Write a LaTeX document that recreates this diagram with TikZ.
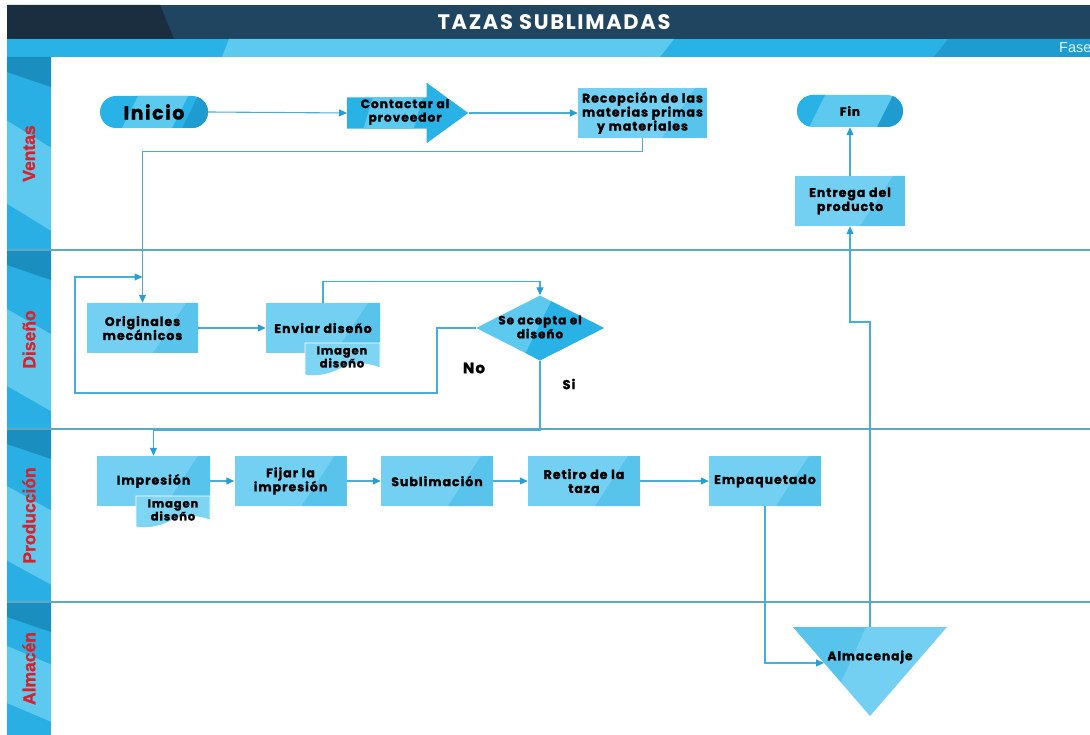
\documentclass[tikz,border=0pt]{standalone}
\usepackage{fontspec}
\setmainfont{Liberation Sans}[BoldFeatures={FakeBold=1.2}]
\newfontfamily\shapefont{Poppins}[LetterSpace=8,BoldFeatures={FakeBold=1.2}]
\newfontfamily\titlefont{Poppins}[LetterSpace=8]
\usetikzlibrary{calc}
\usetikzlibrary{arrows.meta}
\usetikzlibrary{shapes.geometric}
\usetikzlibrary{shapes.misc}
\usetikzlibrary{shapes.arrows}

\definecolor{navydark}{HTML}{1A2E40}
\definecolor{navy}{HTML}{1F4560}
\definecolor{stripemid}{HTML}{29B2E6}
\definecolor{stripelight}{HTML}{5CC9EF}
\definecolor{stripedark}{HTML}{1E9CCF}
\definecolor{lanedark}{HTML}{1A8EBF}
\definecolor{lanemid}{HTML}{2AAFE4}
\definecolor{lanelight}{HTML}{5DC9EF}
\definecolor{laneline}{HTML}{5EA9C1}
\definecolor{lanered}{HTML}{D7222C}
\definecolor{boxblue}{HTML}{74D0F2}
\definecolor{boxshade}{HTML}{58C4EC}
\definecolor{docblue}{HTML}{7DD4F3}
\definecolor{flowblue}{HTML}{45AFDA}
\definecolor{tipblue}{HTML}{2A9ED3}

\tikzset{
    procbox/.style={rectangle,fill=boxblue,minimum width=112pt,minimum height=50pt,
        align=center,inner sep=2pt,text=black,
        font=\shapefont\bfseries\fontsize{12.5}{14}\selectfont,
        path picture={\fill[boxshade] ($(path picture bounding box.north east)+(-12pt,0pt)$)
            -- (path picture bounding box.north east) -- (path picture bounding box.south east)
            -- ($(path picture bounding box.south east)+(-45pt,0pt)$) -- cycle;}},
    termnode/.style={rounded rectangle,fill=stripemid,minimum width=112pt,minimum height=32pt,
        inner sep=2pt,text=black,
        path picture={\fill[stripelight] ($(path picture bounding box.north west)+(38pt,0pt)$)
            -- ($(path picture bounding box.north west)+(88pt,0pt)$)
            -- ($(path picture bounding box.south west)+(72pt,0pt)$)
            -- ($(path picture bounding box.south west)+(22pt,0pt)$) -- cycle;
            \fill[stripedark] ($(path picture bounding box.north east)+(-10pt,0pt)$)
            -- (path picture bounding box.north east) -- (path picture bounding box.south east)
            -- ($(path picture bounding box.south east)+(-26pt,0pt)$) -- cycle;}},
    termlight/.style={rounded rectangle,fill=lanelight,minimum width=110pt,minimum height=32pt,
        inner sep=2pt,text=black,
        path picture={\fill[stripemid] (path picture bounding box.north west)
            -- ($(path picture bounding box.north west)+(28pt,0pt)$)
            -- ($(path picture bounding box.south west)+(12pt,0pt)$)
            -- (path picture bounding box.south west) -- cycle;
            \fill[stripedark] ($(path picture bounding box.north east)+(-10pt,0pt)$)
            -- (path picture bounding box.north east) -- (path picture bounding box.south east)
            -- ($(path picture bounding box.south east)+(-26pt,0pt)$) -- cycle;}},
    arrowbox/.style={single arrow,fill=stripemid,minimum height=121pt,
        single arrow head extend=14.5pt,single arrow tip angle=72,
        inner xsep=0pt,inner ysep=3pt,text height=12.5pt,text depth=12.5pt,
        path picture={\fill[stripelight] ($(path picture bounding box.north west)+(30pt,0pt)$)
            -- ($(path picture bounding box.north west)+(80pt,0pt)$)
            -- ($(path picture bounding box.south west)+(62pt,0pt)$)
            -- ($(path picture bounding box.south west)+(12pt,0pt)$) -- cycle;
            \fill[stripedark] (path picture bounding box.north west)
            -- ($(path picture bounding box.north west)+(22pt,0pt)$)
            -- ($(path picture bounding box.north west)+(8pt,12pt)$) -- cycle;}},
    decnode/.style={diamond,fill=lanelight,minimum width=128pt,minimum height=65pt,inner sep=0pt,
        path picture={\fill[stripemid] ($(path picture bounding box.north)+(14pt,0pt)$)
            -- (path picture bounding box.east) -- (path picture bounding box.south)
            -- ($(path picture bounding box.south)+(-18pt,0pt)$) -- cycle;}},
    shapetext/.style={align=center,inner sep=0pt,text=black,
        font=\shapefont\bfseries\fontsize{11.5}{13}\selectfont},
    docshape/.style={fill=docblue,draw=white,line width=0.8pt},
    lanelabel/.style={text=lanered,font=\bfseries\fontsize{17.5}{20}\selectfont,inner sep=0pt},
    answer/.style={text=black,font=\shapefont\bfseries\fontsize{15}{18}\selectfont,inner sep=0pt},
    flow/.style={draw=flowblue,line width=1.1pt,-{Triangle[length=8pt,width=7pt,color=tipblue]}},
    laneline/.style={draw=laneline,line width=1.2pt}
}

\begin{document}
\begin{tikzpicture}[x=1pt,y=-1pt]
                \useasboundingbox[fill=white] (0,0) rectangle (1090,735);

                \fill[navy] (7,5) rectangle (1090,39);
                \fill[navydark] (7,5) -- (160,5) -- (174,39) -- (7,39) -- cycle;
                \fill[stripemid] (7,39) rectangle (1090,57);
                \fill[stripelight] (229,39) -- (674,39) -- (660,57) -- (222,57) -- cycle;
                \fill[stripedark] (948,39) -- (1090,39) -- (1090,57) -- (934,57) -- cycle;

                \node[text=white,font=\titlefont\bfseries\fontsize{21}{24}\selectfont,inner sep=0pt] (title) at (554,22) {TAZAS SUBLIMADAS};
                \node[text=white!85!stripemid,font=\fontsize{14.5}{16}\selectfont,inner sep=0pt,anchor=west] (fase) at (1059,48) {Fase};

                \foreach \ltop/\lbot/\lname/\lidx in {57/250/Ventas/1,250/429/Diseño/2,429/602/Producción/3,602/735/Almacén/4}{
                    \pgfmathsetmacro\lh{\lbot-\ltop}
                    \fill[lanemid] (7,\ltop) rectangle (51,\lbot);
                    \fill[lanedark] (7,\ltop) -- (51,\ltop) -- (51,\ltop+30) -- (7,\ltop+15) -- cycle;
                    \fill[lanelight] (7,\ltop+0.33*\lh) -- (51,\ltop+0.47*\lh) -- (51,\ltop+0.9*\lh) -- (7,\ltop+0.76*\lh) -- cycle;
                    \node[lanelabel,rotate=90] (lane\lidx) at (29,{(\ltop+\lbot)/2}) {\lname};
                }
                \foreach \ly in {250,429,602}
                    \draw[laneline] (7,\ly) -- (1090,\ly);

                \node[termnode,font=\shapefont\bfseries\fontsize{19}{22}\selectfont] (inicio) at (154,112) {Inicio};
                \node[arrowbox,anchor=tail] (contact) at (347,113) {};
                \node[shapetext,font=\shapefont\bfseries\fontsize{12.2}{13.5}\selectfont] (contacttext) at (405,112) {Contactar al\\proveedor};
                \node[procbox,minimum width=129pt] (recep) at (642.5,113) {Recepción de las\\materias primas\\y materiales};
                \node[termlight,font=\shapefont\bfseries\fontsize{12}{14}\selectfont] (fin) at (850,111) {Fin};
                \node[procbox,minimum width=110pt] (entrega) at (850,201) {Entrega del\\producto};

                \node[procbox,minimum width=111pt] (orig) at (142.5,328) {Originales\\mecánicos};
                \node[procbox,minimum width=114pt] (enviar) at (323,328) {Enviar diseño};
                \filldraw[docshape] (305,343) -- (380,343) -- (380,368) .. controls (366,362) and (352,363) .. (340,369) .. controls (328,375) and (316,377) .. (305,375) -- cycle;
                \node[shapetext] (img1) at (342,357) {Imagen\\diseño};
                \node[decnode] (dec) at (540,328) {};
                \node[shapetext,font=\shapefont\bfseries\fontsize{12}{14}\selectfont] (dectext) at (540,327) {Se acepta el\\diseño};
                \node[answer] (nolabel) at (474,368) {No};
                \node[answer,font=\shapefont\bfseries\fontsize{13}{16}\selectfont] (silabel) at (569,384) {Si};

                \node[procbox,minimum width=113pt] (impr) at (153.5,481) {Impresión};
                \filldraw[docshape] (136,496) -- (210,496) -- (210,520) .. controls (196,515) and (182,515) .. (171,521) .. controls (159,527) and (147,529) .. (136,527) -- cycle;
                \node[shapetext] (img2) at (173,510) {Imagen\\diseño};
                \node[procbox] (fijar) at (290.5,481) {Fijar la\\impresión};
                \node[procbox] (subli) at (437,481) {Sublimación};
                \node[procbox] (retiro) at (584,481) {Retiro de la\\taza};
                \node[procbox] (empaq) at (765,481) {Empaquetado};

                \fill[boxblue] (793,627) -- (947,627) -- (870,716) -- cycle;
                \fill[boxshade] (793,627) -- (866,627) -- (841,682) -- cycle;
                \node[shapetext,font=\shapefont\bfseries\fontsize{12.2}{14}\selectfont] (alm) at (870,657) {Almacenaje};
                \coordinate (almtop) at (870,627);
                \coordinate (almin) at (824,663);
                \coordinate (almbend) at (870,322);

                \draw[flow] (inicio.east) -- (contact.tail);
                \draw[flow] (contact.tip) -- (recep.west);
                \draw[flow] (recep.south) -- ++(0,13) -| (orig.north);
                \draw[flow] (entrega.north) -- (fin.south);

                \coordinate (nobend) at (437,393);
                \coordinate (noback) at (75,277);
                \coordinate (siturn) at (540,430);
                \draw[flow] (orig.east) -- (enviar.west);
                \draw[flow] (enviar.north) -- ++(0,-21) -| (dec.north);
                \draw[flow] (dec.west) -| (nobend) -| (noback) -- (orig.north |- noback);
                \draw[flow] (dec.south) -- (siturn) -| (impr.north);

                \draw[flow] (impr.east) -- (fijar.west);
                \draw[flow] (fijar.east) -- (subli.west);
                \draw[flow] (subli.east) -- (retiro.west);
                \draw[flow] (retiro.east) -- (empaq.west);
                \draw[flow] (empaq.south) |- (almin);
                \draw[flow] (almtop) -- (almbend) -| (entrega.south);
            \end{tikzpicture}
\end{document}
